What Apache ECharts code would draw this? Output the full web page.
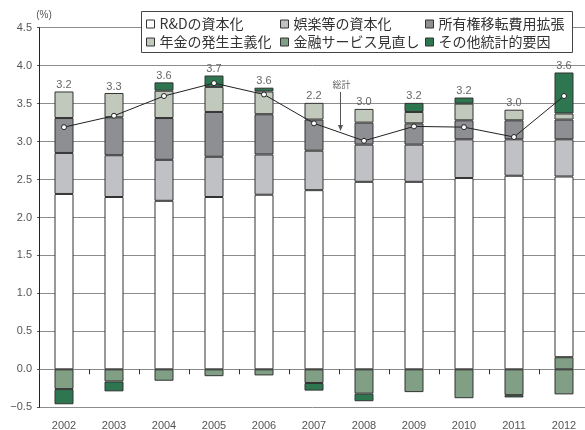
<!DOCTYPE html>
<html><head><meta charset="utf-8">
<script src="https://cdn.jsdelivr.net/npm/echarts@6/dist/echarts.min.js"></script>
<style>html,body{margin:0;padding:0;background:#fff}#c{width:585px;height:430px}</style>
</head><body><div id="c"></div>
<script>
// ---- data ----
const years = ['2002','2003','2004','2005','2006','2007','2008','2009','2010','2011','2012'];
const rdCap      = [2.31, 2.27, 2.22, 2.27, 2.30, 2.36, 2.47, 2.47, 2.52, 2.55, 2.38];
const amuseCap   = [0.54, 0.55, 0.54, 0.53, 0.53, 0.52, 0.49, 0.49, 0.51, 0.48, 0.49];
const ownerCost  = [0.46, 0.50, 0.55, 0.59, 0.53, 0.41, 0.29, 0.28, 0.25, 0.25, 0.26];
const pension    = [0.35, 0.32, 0.36, 0.33, 0.30, 0.22, 0.18, 0.15, 0.22, 0.14, 0.08];
const financeNeg = [-0.26,-0.16,-0.15,-0.09,-0.08,-0.18,-0.32,-0.30,-0.38,-0.34,-0.33];
const financePos = [null, null, null, null, null, null, null, null, null, null, 0.16];
const otherStat  = [-0.20,-0.13, 0.11, 0.15, 0.05,-0.10,-0.10, 0.12, 0.08,-0.03, 0.54];
const total      = [3.19, 3.34, 3.60, 3.77, 3.62, 3.24, 3.01, 3.20, 3.19, 3.06, 3.60];
const totalLabels = ['3.2','3.3','3.6','3.7','3.6','2.2','3.0','3.2','3.2','3.0','3.6'];
const names = ['R&Dの資本化','娯楽等の資本化','所有権移転費用拡張','年金の発生主義化','金融サービス見直し','その他統計的要因'];
const colors = ['#ffffff','#c0c1c4','#8e8f93','#c0c9bc','#809f85','#2e7650'];

// positive stack height (for placing the total labels)
const posTop = years.map((_, i) =>
  [financePos, rdCap, amuseCap, ownerCost, pension, financeNeg, otherStat]
    .reduce((s, arr) => s + ((arr[i] != null && arr[i] > 0) ? arr[i] : 0), 0));

const numFont = 'Liberation Sans';
const jpFont = 'Noto Sans CJK JP';

function stackBar(name, data, color) {
  return {
    name: name, type: 'bar', stack: 'a', data: data, barWidth: 19, barGap: '-100%',
    itemStyle: { color: color, borderColor: '#333', borderWidth: 1 },
    emphasis: { disabled: true }, z: 3
  };
}

const legendCommon = {
  orient: 'vertical', padding: 0, itemWidth: 8, itemHeight: 8, itemGap: 2, icon: 'rect',
  selectedMode: false, z: 10,
  itemStyle: { borderWidth: 1, borderColor: '#333' },
  textStyle: { fontSize: 14, color: '#333', fontFamily: jpFont, lineHeight: 16 }
};

const chart = echarts.init(document.getElementById('c'));
chart.setOption({
  animation: false,
  backgroundColor: '#fff',
  grid: { left: 39, top: 27.7, width: 550, bottom: 22.7, containLabel: false, outerBoundsMode: 'none' },
  legend: [
    Object.assign({}, legendCommon, { left: 146, top: 16, data: [names[0], names[3]] }),
    Object.assign({}, legendCommon, { left: 280, top: 16, data: [names[1], names[4]] }),
    Object.assign({}, legendCommon, { left: 425, top: 16, data: [names[2], names[5]] })
  ],
  xAxis: [
    {
      type: 'category', data: years, position: 'bottom',
      axisLine: { show: false, onZero: false },
      axisTick: { show: false },
      axisLabel: { margin: 13, fontSize: 11, lineHeight: 11, color: '#555', fontFamily: numFont },
      splitLine: { show: false }
    },
    {
      // zero line with its category ticks
      type: 'category', data: years, position: 'bottom', offset: -38,
      axisLine: { show: true, onZero: false, lineStyle: { color: '#888', width: 1 } },
      axisTick: { show: true, length: 5, lineStyle: { color: '#333' } },
      axisLabel: { show: false },
      splitLine: { show: false }
    }
  ],
  yAxis: {
    type: 'value', min: -0.5, max: 4.5, interval: 0.5,
    name: '(%)', nameLocation: 'end', nameGap: 7,
    nameTextStyle: { fontSize: 10, color: '#555', fontFamily: numFont, padding: [0, 0, 0, 10] },
    axisLine: { show: true, lineStyle: { color: '#222', width: 1 } },
    axisTick: { show: true, length: 2, lineStyle: { color: '#555' } },
    axisLabel: { margin: 7, fontSize: 11, color: '#555', fontFamily: numFont,
      formatter: v => (v < 0 ? '\u2212' : '') + Math.abs(v).toFixed(1) },
    splitLine: { show: true, lineStyle: { color: '#8c8c8c', width: 1 } }
  },
  series: [
    stackBar(names[4], financePos, colors[4]),
    stackBar(names[0], rdCap, colors[0]),
    stackBar(names[1], amuseCap, colors[1]),
    stackBar(names[2], ownerCost, colors[2]),
    stackBar(names[3], pension, colors[3]),
    stackBar(names[4], financeNeg, colors[4]),
    stackBar(names[5], otherStat, colors[5]),
    {
      name: 'totalLabel', type: 'bar', data: posTop, barWidth: 19, barGap: '-100%',
      itemStyle: { color: 'rgba(0,0,0,0)' }, silent: true, z: 1,
      label: { show: true, position: 'top', distance: 1, fontSize: 11, color: '#666',
        fontFamily: numFont, formatter: p => totalLabels[p.dataIndex] }
    },
    {
      name: '総計', type: 'line', data: total, symbol: 'circle', symbolSize: 5,
      itemStyle: { color: '#fff', borderColor: '#222', borderWidth: 1 },
      lineStyle: { color: '#222', width: 1 }, z: 10, emphasis: { disabled: true }
    }
  ],
  graphic: [
    { type: 'rect', z: 5, shape: { x: 141.5, y: 11.5, width: 431, height: 41 },
      style: { fill: '#fff', stroke: '#444', lineWidth: 1 } },
    { type: 'text', z: 6, x: 341.5, y: 84.5,
      style: { text: '総計', fontSize: 9, fill: '#666', fontFamily: jpFont, align: 'center', verticalAlign: 'middle' } },
    { type: 'line', z: 6, shape: { x1: 340.5, y1: 92, x2: 340.5, y2: 127 },
      style: { stroke: '#555', lineWidth: 1 } },
    { type: 'polygon', z: 6, shape: { points: [[338, 125], [343, 125], [340.5, 131]] },
      style: { fill: '#555' } }
  ]
});
</script>
</body></html>
